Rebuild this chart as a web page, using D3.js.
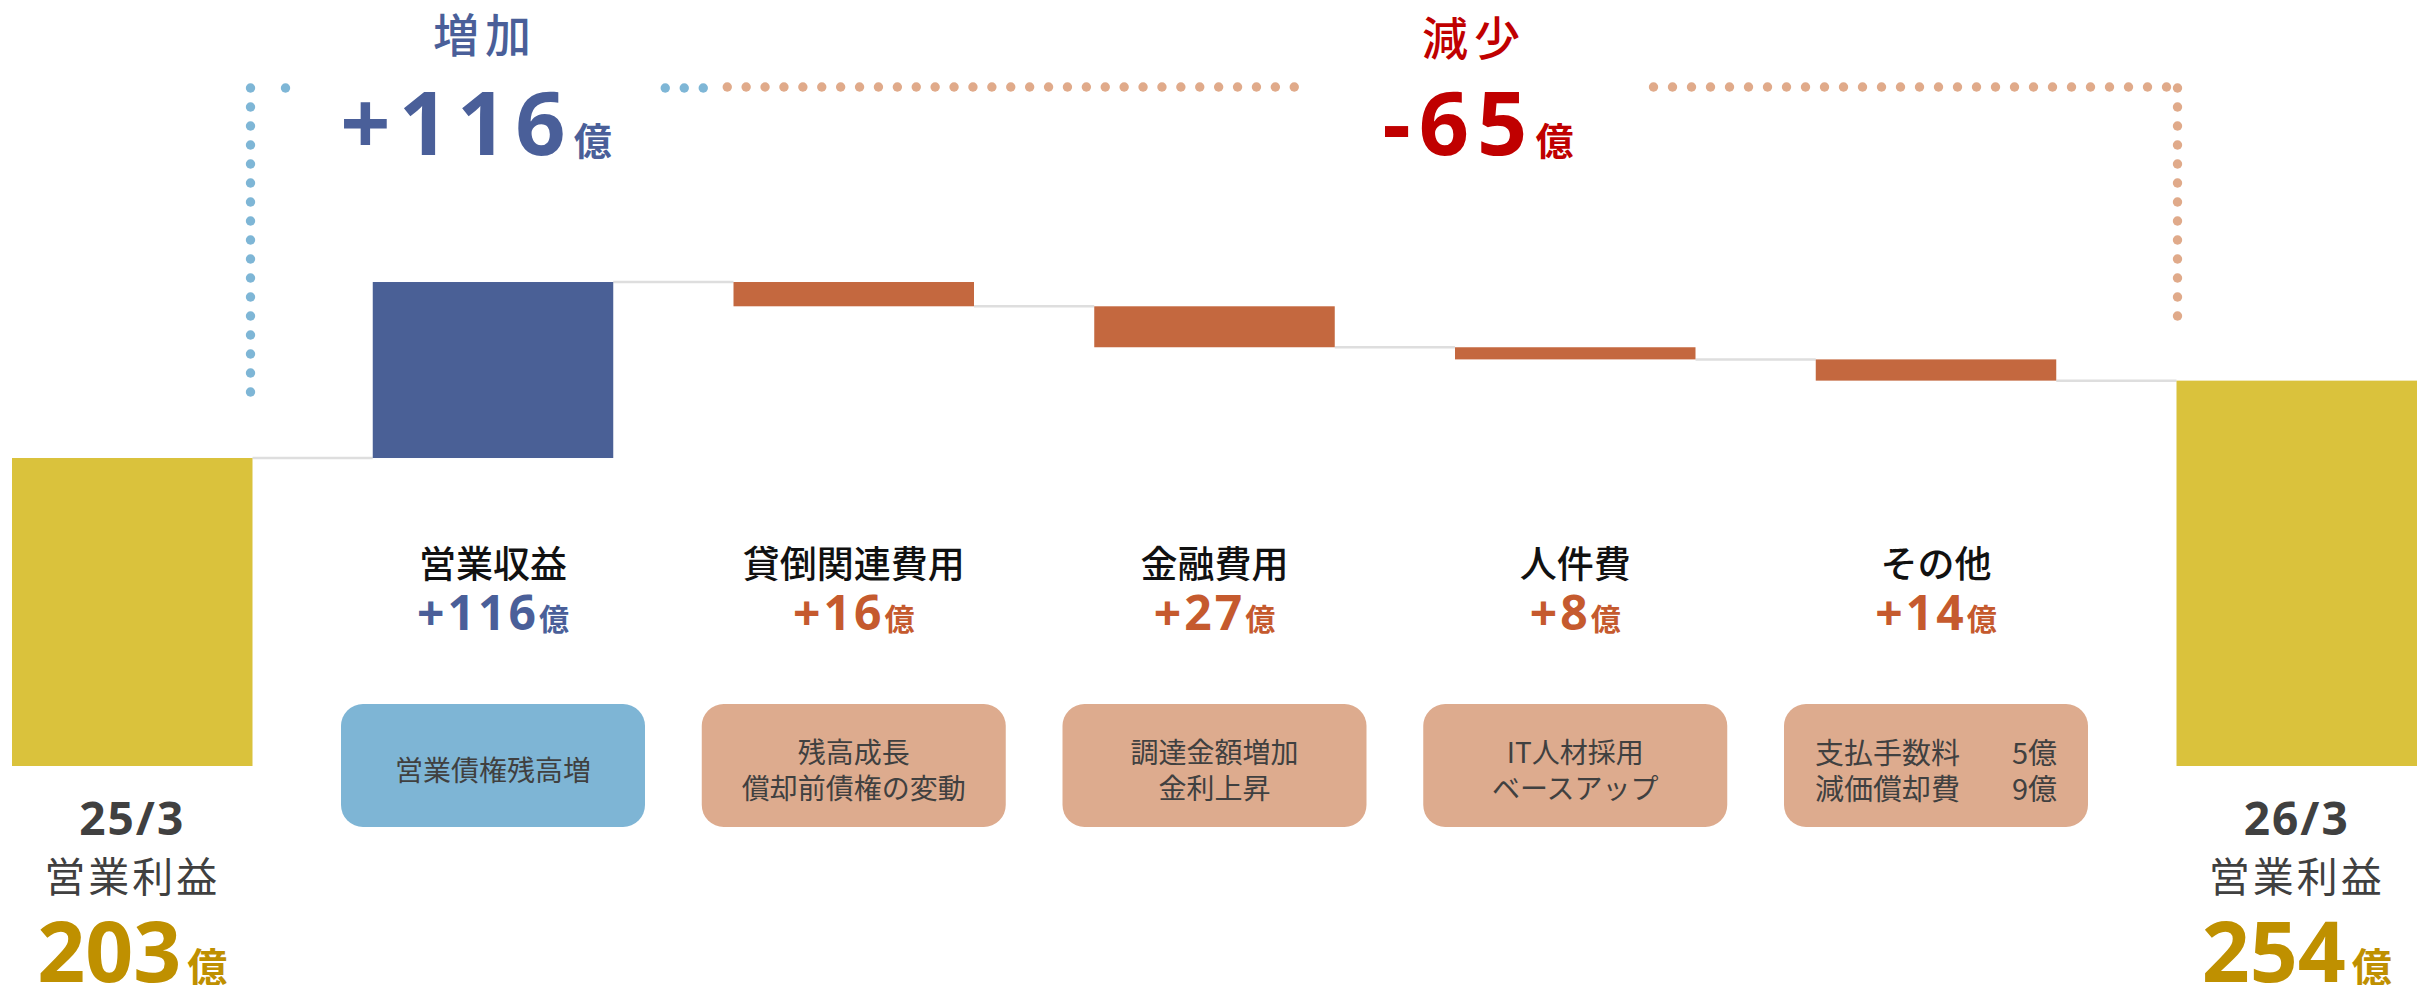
<!DOCTYPE html>
<html>
<head>
<meta charset="utf-8">
<script src="https://cdn.jsdelivr.net/npm/d3@7"></script>
<style>
  html, body { margin: 0; padding: 0; background: #fff; }
  svg { display: block; }
</style>
</head>
<body>
<svg id="chart" width="2425" height="985"></svg>
<script>
// ---- data ----
const startLabel = '25/3';
const endLabel = '26/3';
const totalTitle = '営業利益';
const startValue = 203;
const endValue = 254;
const categories = ['営業収益', '貸倒関連費用', '金融費用', '人件費', 'その他'];
const deltas = [116, -16, -27, -8, -14];
const notes = [
  ['営業債権残高増'],
  ['残高成長', '償却前債権の変動'],
  ['調達金額増加', '金利上昇'],
  ['IT人材採用', 'ベースアップ'],
  ['支払手数料', '減価償却費']
];
const noteValues = [null, null, null, null, ['5億', '9億']];
const groupTitles = ['増加', '減少'];
const groupTotals = [116, -65];
const unit = '億';

// ---- styling ----
const COL = {
  total: '#dac23c', up: '#4a6096', down: '#c4683f',
  upText: '#4a5f99', downText: '#c55a2e', red: '#c00000', gold: '#bf9000',
  boxUp: '#7eb5d5', boxDown: '#ddab8e', dotUp: '#7eb6d6', dotDown: '#e0aa8a',
  conn: '#dedede', dark: '#404040', label: '#111111'
};
const JP = "'Noto Sans CJK JP', sans-serif";
const NUM = "'Noto Sans', 'Noto Sans CJK JP', sans-serif";

const svg = d3.select('#chart');
const keys = ['start', ...categories, 'end'];
const x = d3.scaleBand().domain(keys).range([12, 2417]).paddingInner(1 / 3).paddingOuter(0);
const y = d3.scaleLinear().domain([0, 320]).range([766, 280.5]);
const bw = x.bandwidth();
const cx = k => x(k) + bw / 2;

// running totals for the waterfall
let cum = startValue;
const steps = [{ key: 'start', lo: 0, hi: startValue, type: 'total', level: startValue }];
deltas.forEach((d, i) => {
  const a = cum; cum += d;
  steps.push({ key: categories[i], lo: Math.min(a, cum), hi: Math.max(a, cum), type: d >= 0 ? 'up' : 'down', level: cum, delta: d });
});
steps.push({ key: 'end', lo: 0, hi: endValue, type: 'total', level: endValue });

// connectors between bars
const conn = svg.append('g');
steps.slice(0, -1).forEach((s, i) => {
  conn.append('line')
    .attr('x1', x(s.key) + bw).attr('x2', x(steps[i + 1].key))
    .attr('y1', y(s.level)).attr('y2', y(s.level))
    .attr('stroke', COL.conn).attr('stroke-width', 2.5);
});

// bars
svg.append('g').selectAll('rect').data(steps).join('rect')
  .attr('x', d => x(d.key)).attr('width', bw)
  .attr('y', d => y(d.hi)).attr('height', d => y(d.lo) - y(d.hi))
  .attr('fill', d => COL[d.type]);

// dotted bracket over the increase / decrease groups
const dots = svg.append('g');
const dotR = 4.7, topY = 88;
function dotRow(x0, n, step, cy, color) {
  d3.range(n).forEach(k => dots.append('circle').attr('cx', x0 + k * step).attr('cy', cy).attr('r', dotR).attr('fill', color));
}
function dotCol(x0, y0, n, step, color) {
  d3.range(n).forEach(k => dots.append('circle').attr('cx', x0).attr('cy', y0 + k * step).attr('r', dotR).attr('fill', color));
}
const leftX = x('start') + bw - 2;
const rightX = x('end') + 1;
dotCol(leftX, topY, 17, 19, COL.dotUp);
dotRow(leftX + 35, 1, 19, topY, COL.dotUp);
const upEnd = x(categories[0]) + bw;
dotRow(upEnd + 52, 3, 19, topY, COL.dotUp);
dotRow(upEnd + 114, 31, 18.9, topY - 1, COL.dotDown);
dotRow(x('end') - 523, 28, 19, topY - 1, COL.dotDown);
dotCol(rightX, topY, 13, 19, COL.dotDown);

// group headings
const groups = [
  { title: groupTitles[0], total: groupTotals[0], x: 485, ty: 32, color: COL.upText, tx: 476 },
  { title: groupTitles[1], total: groupTotals[1], x: 1474, ty: 35, color: COL.red, tx: 1478 }
];
groups.forEach(g => {
  svg.append('text').attr('x', g.x).attr('y', g.ty)
    .attr('text-anchor', 'middle').attr('dominant-baseline', 'central')
    .attr('font-family', JP).attr('font-size', 46).attr('font-weight', 500)
    .attr('letter-spacing', 6).attr('fill', g.color).text(g.title);
  const t = svg.append('text').attr('x', g.tx).attr('y', 155)
    .attr('text-anchor', 'middle').attr('font-family', NUM).attr('font-weight', 700).attr('fill', g.color);
  t.append('tspan').attr('font-size', 88).attr('letter-spacing', 8)
    .text((g.total > 0 ? '+' : '-') + Math.abs(g.total));
  t.append('tspan').attr('font-size', 38).attr('font-family', JP).text(unit);
});

// category labels, change values and note boxes
steps.filter(s => s.type !== 'total').forEach((s, i) => {
  const c = cx(s.key);
  const up = s.type === 'up';
  svg.append('text').attr('x', c).attr('y', 562)
    .attr('text-anchor', 'middle').attr('dominant-baseline', 'central')
    .attr('font-family', JP).attr('font-size', 37).attr('font-weight', 500)
    .attr('fill', COL.label).text(s.key);
  const v = svg.append('text').attr('x', c).attr('y', 630)
    .attr('text-anchor', 'middle').attr('font-family', NUM).attr('font-weight', 700)
    .attr('fill', up ? COL.upText : COL.downText);
  v.append('tspan').attr('font-size', 48).attr('letter-spacing', 3).text('+' + Math.abs(s.delta));
  v.append('tspan').attr('font-size', 30).attr('font-family', JP).text(unit);

  svg.append('rect').attr('x', c - 152).attr('y', 704).attr('width', 304).attr('height', 123)
    .attr('rx', 22).attr('fill', up ? COL.boxUp : COL.boxDown);
  const lines = notes[i];
  const vals = noteValues[i];
  const lh = 36;
  const y0 = 769 - (lines.length - 1) * lh / 2;
  lines.forEach((ln, j) => {
    const ty = y0 + j * lh;
    if (vals) {
      svg.append('text').attr('x', c - 121).attr('y', ty).attr('dominant-baseline', 'central')
        .attr('font-family', JP).attr('font-size', 29).attr('fill', COL.dark).text(ln);
      svg.append('text').attr('x', c + 121).attr('y', ty).attr('text-anchor', 'end').attr('dominant-baseline', 'central')
        .attr('font-family', JP).attr('font-size', 29).attr('fill', COL.dark).text(vals[j]);
    } else {
      svg.append('text').attr('x', c).attr('y', ty).attr('text-anchor', 'middle').attr('dominant-baseline', 'central')
        .attr('font-family', JP).attr('font-size', 28).attr('fill', COL.dark).text(ln);
    }
  });
});

// start / end totals under the yellow bars
[{ key: 'start', label: startLabel, value: startValue }, { key: 'end', label: endLabel, value: endValue }].forEach(t => {
  const c = cx(t.key);
  svg.append('text').attr('x', c).attr('y', 835).attr('text-anchor', 'middle')
    .attr('font-family', NUM).attr('font-size', 46).attr('font-weight', 700)
    .attr('letter-spacing', 2).attr('fill', COL.dark).text(t.label);
  svg.append('text').attr('x', c).attr('y', 874).attr('text-anchor', 'middle').attr('dominant-baseline', 'central')
    .attr('font-family', JP).attr('font-size', 41).attr('letter-spacing', 3)
    .attr('fill', COL.dark).text(totalTitle);
  const v = svg.append('text').attr('x', c).attr('y', 982).attr('text-anchor', 'middle')
    .attr('font-family', NUM).attr('font-weight', 700).attr('fill', COL.gold);
  v.append('tspan').attr('font-size', 84).text(t.value);
  v.append('tspan').attr('font-size', 40).attr('font-family', JP).attr('dx', 6).text(unit);
});
</script>
</body>
</html>
